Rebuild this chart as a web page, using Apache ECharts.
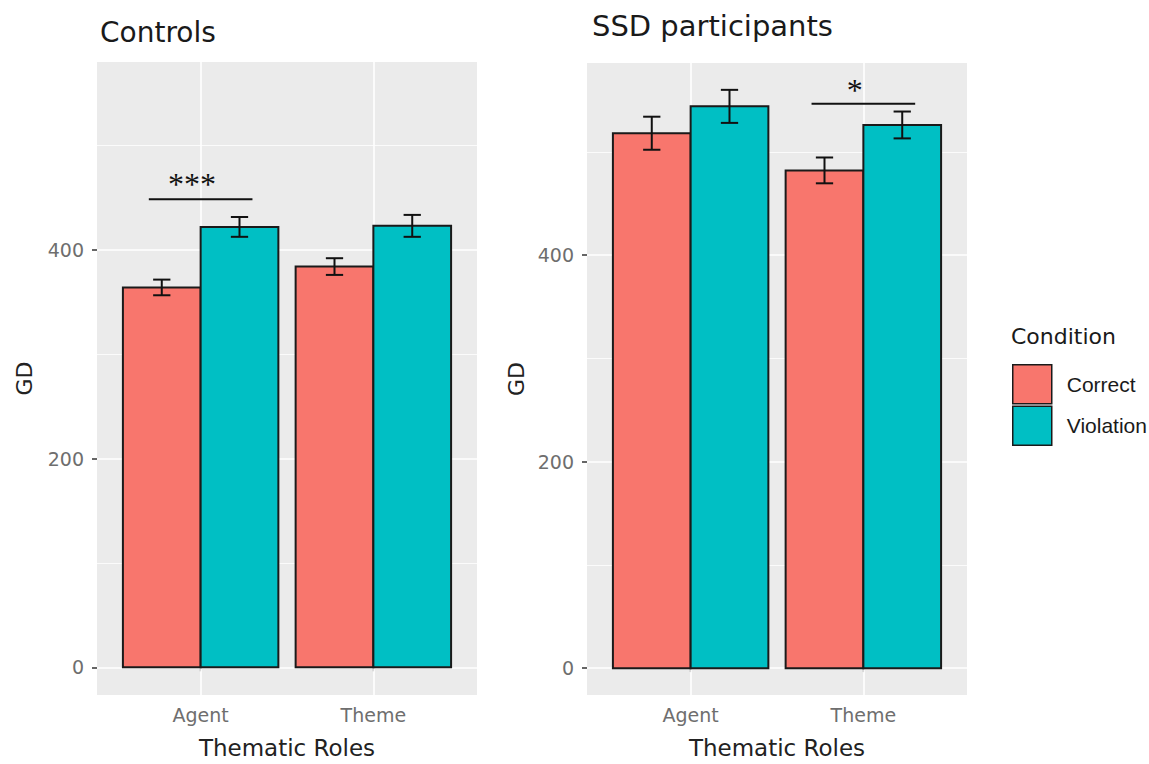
<!DOCTYPE html>
<html>
<head>
<meta charset="utf-8">
<script src="https://cdn.jsdelivr.net/npm/echarts@6/dist/echarts.min.js"></script>
<style>
html,body{margin:0;padding:0;background:#fff;}
#chart{width:1149px;height:764px;}
</style>
</head>
<body>
<div id="chart"></div>
<script>
// ---- data ----
const categories = ['Agent', 'Theme'];
const conditions = ['Correct', 'Violation'];
const panelTitles = ['Controls', 'SSD participants'];
const yTicks = [0, 200, 400];
const yMinorGrid = [100, 300, 500];

const controlsCorrect = [364, 384];
const controlsCorrectErr = [7.5, 8];
const controlsViolation = [422, 423];
const controlsViolationErr = [9.5, 10.5];

const ssdCorrect = [518, 482];
const ssdCorrectErr = [16, 12.5];
const ssdViolation = [544, 526];
const ssdViolationErr = [16, 13];

// significance annotations: [x start, x end, line y, star x, star y]
const controlsSig = [[0.7, 1.3, 448.5, 0.95, 463]];
const controlsSigLabel = ['***'];
const ssdSig = [[1.7, 2.3, 546.5, 1.95, 560]];
const ssdSigLabel = ['*'];

// ---- styling ----
const colors = ['#F8766D', '#00BFC4'];
const panelBg = '#EBEBEB';
const font = 'DejaVu Sans';

function barSeries(name, idx, vals, errs, color, offset) {
  return {
    type: 'custom',
    name: name,
    xAxisIndex: idx,
    yAxisIndex: idx,
    z: 3,
    itemStyle: { color: color },
    encode: { x: 0, y: 1 },
    data: vals.map((v, i) => [i + 1, v, errs[i]]),
    renderItem: function (params, api) {
      const x = api.value(0), v = api.value(1), e = api.value(2);
      const half = 0.225;
      const p0 = api.coord([x + offset - half, 0]);
      const p1 = api.coord([x + offset + half, v]);
      const c = api.coord([x + offset, v]);
      const top = api.coord([x + offset, v + e])[1];
      const bot = api.coord([x + offset, v - e])[1];
      const capL = api.coord([x + offset - 0.05, v])[0];
      const capR = api.coord([x + offset + 0.05, v])[0];
      const ls = { stroke: '#111', lineWidth: 2 };
      return {
        type: 'group',
        children: [
          { type: 'rect', shape: { x: p0[0], y: p1[1], width: p1[0] - p0[0], height: p0[1] - p1[1] },
            style: { fill: color, stroke: '#1a1a1a', lineWidth: 2 } },
          { type: 'line', shape: { x1: c[0], y1: top, x2: c[0], y2: bot }, style: ls },
          { type: 'line', shape: { x1: capL, y1: top, x2: capR, y2: top }, style: ls },
          { type: 'line', shape: { x1: capL, y1: bot, x2: capR, y2: bot }, style: ls }
        ]
      };
    }
  };
}

function sigSeries(idx, sig, labels) {
  return {
    type: 'custom',
    xAxisIndex: idx,
    yAxisIndex: idx,
    z: 4,
    silent: true,
    data: sig.map((s, i) => [s[0], s[1], s[2], s[3], s[4], i]),
    encode: { x: [0, 1, 3], y: [2, 4] },
    renderItem: function (params, api) {
      const a = api.coord([api.value(0), api.value(2)]);
      const b = api.coord([api.value(1), api.value(2)]);
      const t = api.coord([api.value(3), api.value(4)]);
      return {
        type: 'group',
        children: [
          { type: 'line', shape: { x1: a[0], y1: a[1], x2: b[0], y2: b[1] }, style: { stroke: '#111', lineWidth: 2 } },
          { type: 'text', x: t[0], y: t[1],
            style: { text: labels[api.value(5)], fill: '#111', font: '32px "Liberation Serif"', align: 'center', verticalAlign: 'middle' } }
        ]
      };
    }
  };
}

function gridSeries(idx) {
  const major = yTicks.map(v => ({ yAxis: v, lineStyle: { width: 1.6 } }))
    .concat([1, 2].map(v => ({ xAxis: v, lineStyle: { width: 1.6 } })));
  const minor = yMinorGrid.map(v => ({ yAxis: v, lineStyle: { width: 0.8 } }));
  return {
    type: 'line',
    xAxisIndex: idx,
    yAxisIndex: idx,
    z: 1,
    silent: true,
    symbol: 'none',
    lineStyle: { width: 0 },
    data: [[1, 0]],
    markLine: {
      z: 1,
      silent: true,
      symbol: 'none',
      label: { show: false },
      emphasis: { disabled: true },
      animation: false,
      lineStyle: { color: '#ffffff', type: 'solid' },
      data: major.concat(minor)
    }
  };
}

function xAxis(idx) {
  return {
    type: 'value', gridIndex: idx, min: 0.4, max: 2.6,
    axisLine: { show: false },
    splitLine: { show: false },
    axisTick: { show: true, customValues: [1, 2], length: 4, lineStyle: { color: '#444', width: 1.2 } },
    axisLabel: { customValues: [1, 2], formatter: v => categories[Math.round(v) - 1],
      color: '#6e6e6e', fontSize: 19, fontFamily: font, margin: 10 },
    name: 'Thematic Roles', nameLocation: 'middle', nameGap: 41,
    nameTextStyle: { fontSize: 23, fontFamily: font, color: '#222' }
  };
}
function yAxis(idx, min, max, gap) {
  return {
    type: 'value', gridIndex: idx, min: min, max: max,
    axisLine: { show: false },
    splitLine: { show: false },
    axisTick: { show: true, customValues: yTicks, length: 5, lineStyle: { color: '#333', width: 1.5 } },
    axisLabel: { customValues: yTicks, color: '#6e6e6e', fontSize: 19, fontFamily: font, margin: 13 },
    name: 'GD', nameLocation: 'middle', nameGap: gap,
    nameTextStyle: { fontSize: 22, fontFamily: font, color: '#222' }
  };
}

const chart = echarts.init(document.getElementById('chart'), null, { renderer: 'svg' });
chart.setOption({
  backgroundColor: '#ffffff',
  animation: false,
  title: [
    { text: panelTitles[0], left: 95, top: 13, textStyle: { fontSize: 28, fontWeight: 'normal', fontFamily: font, color: '#1a1a1a' } },
    { text: panelTitles[1], left: 587, top: 6, textStyle: { fontSize: 29, fontWeight: 'normal', fontFamily: font, color: '#1a1a1a' } },
    { text: 'Condition', left: 1006, top: 320, textStyle: { fontSize: 22, fontWeight: 'normal', fontFamily: font, color: '#1a1a1a' } }
  ],
  legend: {
    data: conditions,
    orient: 'vertical',
    left: 1007, top: 359,
    itemWidth: 39, itemHeight: 39, itemGap: 1,
    icon: 'rect',
    itemStyle: { borderColor: '#1a1a1a', borderWidth: 1.5 },
    textStyle: { fontSize: 21, fontFamily: 'Liberation Sans', color: '#1a1a1a', padding: [0, 0, 0, 10] },
    selectedMode: false
  },
  grid: [
    { left: 97, top: 62, width: 380, height: 634, show: true, backgroundColor: panelBg, borderWidth: 0 },
    { left: 587, top: 63, width: 380, height: 632, show: true, backgroundColor: panelBg, borderWidth: 0 }
  ],
  xAxis: [xAxis(0), xAxis(1)],
  yAxis: [yAxis(0, -26.5, 580, 62), yAxis(1, -26, 586, 60)],
  series: [
    gridSeries(0),
    gridSeries(1),
    barSeries(conditions[0], 0, controlsCorrect, controlsCorrectErr, colors[0], -0.225),
    barSeries(conditions[1], 0, controlsViolation, controlsViolationErr, colors[1], 0.225),
    barSeries(conditions[0], 1, ssdCorrect, ssdCorrectErr, colors[0], -0.225),
    barSeries(conditions[1], 1, ssdViolation, ssdViolationErr, colors[1], 0.225),
    sigSeries(0, controlsSig, controlsSigLabel),
    sigSeries(1, ssdSig, ssdSigLabel)
  ]
});
</script>
</body>
</html>
